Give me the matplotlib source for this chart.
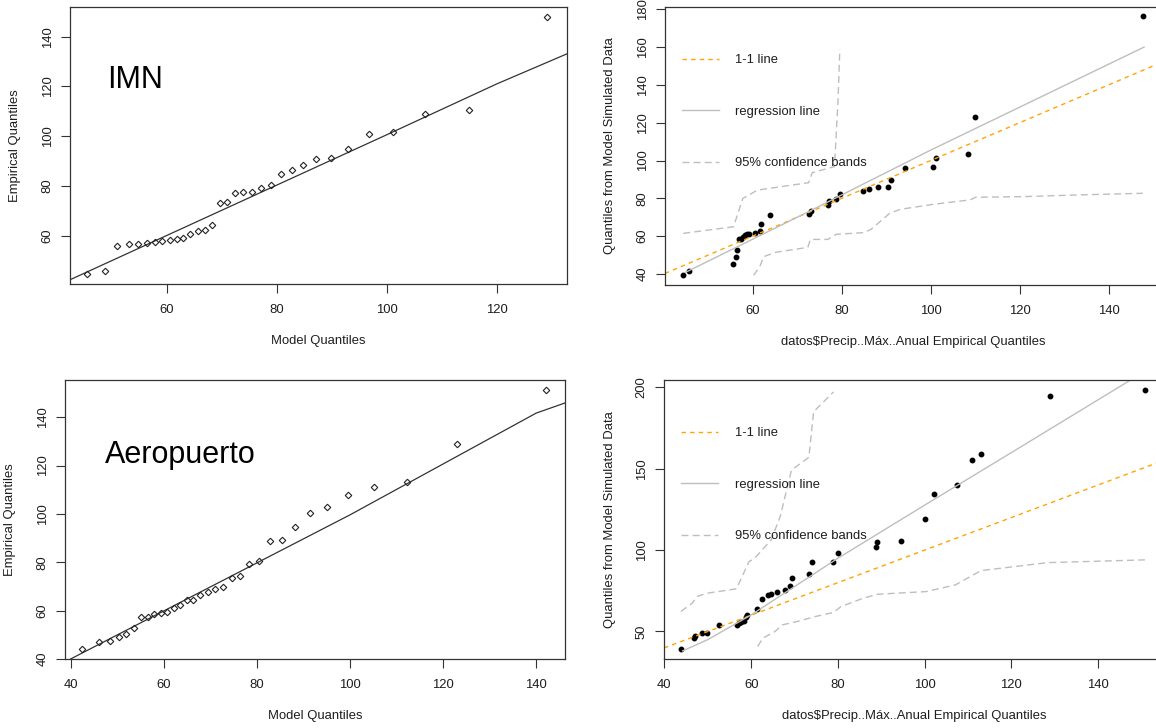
import matplotlib
matplotlib.use("Agg")
import matplotlib.pyplot as plt
from matplotlib.lines import Line2D

plt.rcParams['font.family'] = ['Liberation Sans', 'DejaVu Sans']

## Data
# IMN: model quantiles vs empirical quantiles
imn_model = [45.5, 48.8, 51.0, 53.1, 54.7, 56.4, 57.8, 59.2, 60.5, 61.8, 63.0,
             64.2, 65.7, 66.9, 68.2, 69.6, 70.9, 72.4, 73.9, 75.5, 77.1, 79.0,
             80.7, 82.7, 84.8, 87.2, 89.9, 92.9, 96.8, 101.1, 106.9, 114.9, 129.2]
imn_emp = [44.9, 46.0, 56.0, 56.8, 56.8, 57.3, 57.7, 58.1, 58.4, 58.9, 59.2,
           60.8, 62.0, 62.3, 64.4, 73.1, 73.5, 77.1, 77.5, 77.5, 79.1, 80.3,
           84.9, 86.5, 88.5, 90.9, 91.3, 94.8, 100.8, 101.6, 108.8, 110.4, 148.0]
imn_line_x = [42.4, 100.0, 120.0, 132.8]
imn_line_y = [42.4, 100.6, 121.0, 133.1]

# IMN: empirical vs simulated quantiles
imn_sim_x = [44.4, 45.6, 55.5, 56.2, 56.5, 56.9, 57.4, 57.8, 58.3, 58.8, 59.2,
             60.5, 61.6, 61.8, 64.0, 72.7, 73.1, 76.9, 77.2, 78.7, 79.6, 84.7,
             86.2, 88.1, 90.5, 91.2, 94.2, 100.5, 101.2, 108.5, 109.9, 147.7]
imn_sim_y = [39.6, 41.8, 45.5, 49.2, 52.9, 58.5, 58.7, 59.4, 60.5, 61.2, 61.2,
             61.7, 62.9, 66.6, 71.2, 71.7, 73.2, 76.3, 78.6, 79.9, 82.3, 83.9,
             84.8, 85.9, 85.9, 89.7, 95.9, 96.4, 101.2, 103.3, 123.2, 176.2]
imn_reg_x = [45.0, 73.0, 100.0, 148.0]
imn_reg_y = [41.0, 73.5, 105.5, 160.0]
imn_up_x = [44.4, 55.7, 57.8, 61.1, 72.6, 73.4, 78.4, 78.8, 79.2, 79.6]
imn_up_y = [61.5, 65.0, 80.0, 84.4, 88.3, 93.6, 96.8, 114.4, 132.0, 158.9]
imn_lo_x = [60.2, 61.6, 62.5, 65.2, 72.4, 73.0, 76.9, 78.8, 85.0, 86.6, 90.8,
            93.2, 100.7, 108.9, 110.1, 120.5, 132.8, 147.7]
imn_lo_y = [39.3, 43.9, 49.2, 51.5, 54.1, 58.3, 58.3, 61.0, 61.9, 63.6, 72.1,
            74.2, 76.9, 79.2, 80.6, 80.9, 81.8, 82.7]

# Aeropuerto: model quantiles vs empirical quantiles
aer_model = [42.5, 46.0, 48.4, 50.3, 51.9, 53.7, 55.1, 56.6, 58.0, 59.5, 60.8,
             62.3, 63.6, 65.1, 66.3, 67.8, 69.5, 71.1, 72.7, 74.6, 76.4, 78.4,
             80.5, 82.8, 85.5, 88.2, 91.4, 95.0, 99.6, 105.1, 112.3, 123.0, 142.1]
aer_emp = [44.1, 46.9, 47.3, 49.1, 50.2, 52.8, 57.3, 57.5, 58.5, 59.1, 59.3,
           61.3, 62.5, 64.3, 64.6, 66.4, 67.9, 69.1, 69.7, 73.7, 74.3, 79.2,
           80.5, 89.0, 89.4, 94.8, 100.2, 102.7, 107.7, 111.3, 113.3, 129.1, 151.3]
aer_line_x = [40.0, 100.0, 140.0, 146.2]
aer_line_y = [40.0, 99.6, 141.7, 145.9]

# Aeropuerto: empirical vs simulated quantiles
aer_sim_x = [43.8, 46.8, 47.0, 48.7, 49.8, 52.6, 56.7, 57.2, 57.7, 58.3, 58.7,
             59.0, 61.4, 62.5, 63.9, 64.6, 66.0, 67.7, 68.9, 69.5, 73.4, 74.0,
             78.9, 80.1, 88.7, 89.1, 94.6, 100.0, 102.2, 107.5, 111.0, 113.0,
             128.9, 150.9]
aer_sim_y = [39.4, 45.7, 47.5, 49.2, 49.2, 54.1, 54.1, 55.5, 56.1, 56.7, 58.8,
             60.4, 63.9, 69.8, 72.3, 72.9, 74.5, 75.6, 78.0, 82.7, 85.4, 92.5,
             92.5, 98.3, 102.1, 104.8, 105.4, 118.9, 134.7, 139.8, 155.1, 158.8,
             194.8, 198.3]
aer_reg_x = [44.2, 50.0, 60.0, 80.0, 100.0, 120.0, 147.5]
aer_reg_y = [38.1, 45.0, 60.2, 95.0, 127.6, 159.9, 204.5]
aer_up_x = [43.8, 46.4, 47.5, 49.8, 56.6, 59.5, 60.8, 64.6, 66.7, 69.3, 73.3,
            74.4, 79.0]
aer_up_y = [62.3, 67.4, 71.5, 73.5, 76.2, 92.9, 95.0, 106.2, 120.6, 149.2,
            157.0, 185.0, 197.2]
aer_lo_x = [61.5, 62.7, 65.5, 67.2, 70.6, 74.8, 79.0, 80.7, 85.8, 89.2, 100.3,
            107.1, 110.5, 113.0, 128.3, 150.8]
aer_lo_y = [40.8, 45.9, 50.0, 54.1, 56.1, 59.2, 61.7, 65.3, 70.4, 72.9, 74.5,
            78.6, 83.7, 87.4, 92.3, 94.0]

W, H = 1156, 728
TXT = '#1e1e1e'
ORANGE = '#FFA500'
GRAY = '#BEBEBE'
FS = 9.4


def px_axes(fig, left, top, right, bottom):
    return fig.add_axes([left / W, 1 - bottom / H, (right - left) / W, (bottom - top) / H])


def r_style(ax, xlim, ylim, xticks, yticks, xlabel, ylabel, box):
    left, top, right, bottom = box
    ax.set_xlim(xlim)
    ax.set_ylim(ylim)
    ax.set_xticks(xticks)
    ax.set_xticklabels([str(v) for v in xticks])
    ax.set_yticks(yticks)
    ax.set_yticklabels([str(v) for v in yticks], rotation=90, va='center')
    ax.tick_params(direction='out', length=6.2, width=0.8, colors='#333333',
                   labelcolor=TXT, labelsize=FS)
    ax.tick_params(axis='x', pad=8.5)
    ax.tick_params(axis='y', pad=5.5)
    for s in ax.spines.values():
        s.set_color('#333333')
        s.set_linewidth(0.9)
    ax.set_xlabel(xlabel, fontsize=FS, color=TXT, va='center')
    ax.set_ylabel(ylabel, fontsize=FS, color=TXT, va='center')
    wpx, hpx = right - left, bottom - top
    ax.xaxis.set_label_coords(0.5, -57.5 / hpx)
    ax.yaxis.set_label_coords(-54.5 / wpx, 0.5)


def qq_panel(ax, mx, ey, lx, ly, name, name_pos):
    ax.plot(lx, ly, color='#333333', linewidth=0.9)
    ax.plot(mx, ey, linestyle='none', marker='D', markersize=3.3,
            markerfacecolor='none', markeredgecolor='#222222', markeredgewidth=0.8)
    ax.text(name_pos[0], name_pos[1], name, transform=ax.transAxes,
            fontsize=22, color='black', ha='left', va='baseline')


def sim_panel(ax, sx, sy, rx, ry, ux, uy, lox, loy):
    ax.plot(sx, sy, linestyle='none', marker='o', markersize=3.2, color='black')
    ax.axline((0, 0), slope=1, color=ORANGE, linewidth=1.0, dashes=(3.2, 3.0))
    ax.plot(rx, ry, color=GRAY, linewidth=1.0)
    ax.plot(ux, uy, color=GRAY, linewidth=1.0, dashes=(5.0, 3.0))
    ax.plot(lox, loy, color=GRAY, linewidth=1.0, dashes=(5.0, 3.0))
    handles = [Line2D([], [], color=ORANGE, linewidth=1.0, dashes=(3.2, 3.0)),
               Line2D([], [], color=GRAY, linewidth=1.0),
               Line2D([], [], color=GRAY, linewidth=1.0, dashes=(5.0, 3.0))]
    labels = ['1-1 line', 'regression line', '95% confidence bands']
    leg = ax.legend(handles, labels, loc='upper left', bbox_to_anchor=(0.034, 0.831),
                    frameon=False, fontsize=FS, borderpad=0, borderaxespad=0,
                    labelspacing=3.02, handlelength=2.85, handletextpad=1.25)
    for t in leg.get_texts():
        t.set_color(TXT)


fig = plt.figure(figsize=(W / 100, H / 100), dpi=100)

# top left
box = (70, 7, 567, 284)
ax = px_axes(fig, *box)
qq_panel(ax, imn_model, imn_emp, imn_line_x, imn_line_y, 'IMN', (0.075, 0.706))
r_style(ax, (42.4, 132.8), (40.7, 151.9), [60, 80, 100, 120], [60, 80, 100, 120, 140],
        'Model Quantiles', 'Empirical Quantiles', box)

# top right
box = (665, 7, 1161, 285)
ax = px_axes(fig, *box)
sim_panel(ax, imn_sim_x, imn_sim_y, imn_reg_x, imn_reg_y, imn_up_x, imn_up_y,
          imn_lo_x, imn_lo_y)
r_style(ax, (40.3, 151.8), (34.2, 181.2), [60, 80, 100, 120, 140],
        [40, 60, 80, 100, 120, 140, 160, 180],
        'datos$Precip..Máx..Anual Empirical Quantiles',
        'Quantiles from Model Simulated Data', box)

# bottom left
box = (65, 380, 565, 659)
ax = px_axes(fig, *box)
qq_panel(ax, aer_model, aer_emp, aer_line_x, aer_line_y, 'Aeropuerto', (0.079, 0.701))
r_style(ax, (38.8, 146.2), (40.0, 155.4), [40, 60, 80, 100, 120, 140],
        [40, 60, 80, 100, 120, 140], 'Model Quantiles', 'Empirical Quantiles', box)

# bottom right
box = (664, 380, 1164, 659)
ax = px_axes(fig, *box)
sim_panel(ax, aer_sim_x, aer_sim_y, aer_reg_x, aer_reg_y, aer_up_x, aer_up_y,
          aer_lo_x, aer_lo_y)
r_style(ax, (39.9, 155.2), (33.1, 204.5), [40, 60, 80, 100, 120, 140],
        [50, 100, 150, 200],
        'datos$Precip..Máx..Anual Empirical Quantiles',
        'Quantiles from Model Simulated Data', box)

fig.savefig('out.png', dpi=100)
